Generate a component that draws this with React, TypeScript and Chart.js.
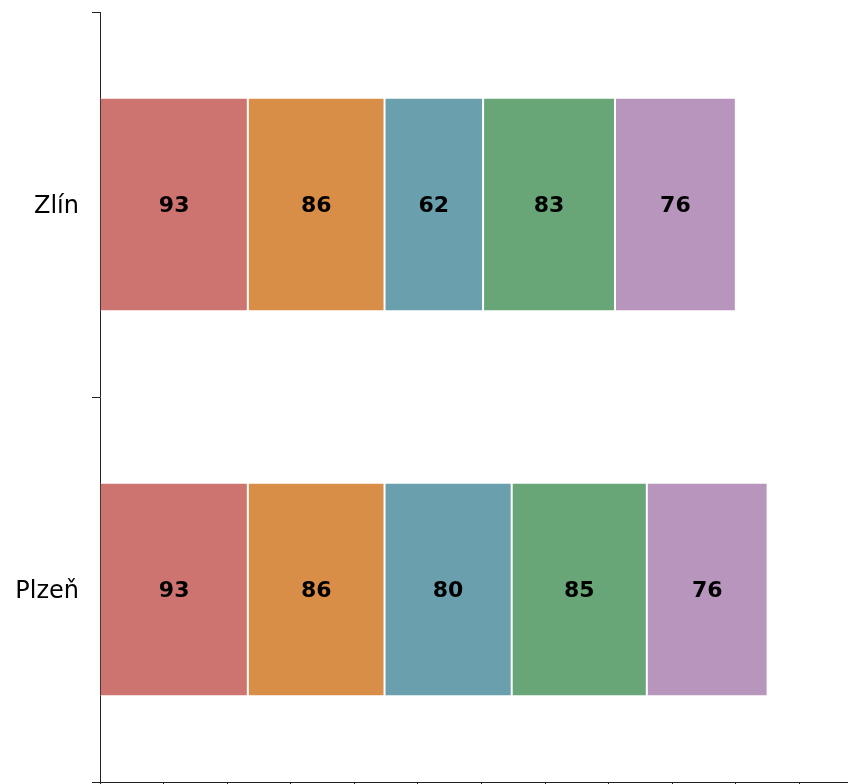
import React, { useEffect, useRef } from "react";
import { Chart, registerables } from "chart.js";

Chart.register(...registerables);

const categories = ["Zlín", "Plzeň"];
const seriesNames = ["Segment 1", "Segment 2", "Segment 3", "Segment 4", "Segment 5"];
const segment1 = [93, 93];
const segment2 = [86, 86];
const segment3 = [62, 80];
const segment4 = [83, 85];
const segment5 = [76, 76];
const seriesValues = [segment1, segment2, segment3, segment4, segment5];
const seriesColors = ["#CD7470", "#D98E48", "#6A9FAD", "#68A677", "#B795BD"];
const xMin = 0;
const xMax = 480;
const xStep = 40;

const valueLabels = {
  id: "valueLabels",
  afterDatasetsDraw(chart: any) {
    const ctx = chart.ctx;
    ctx.save();
    ctx.font = "bold 22px 'DejaVu Sans'";
    ctx.fillStyle = "#000";
    ctx.textAlign = "center";
    ctx.textBaseline = "middle";
    chart.data.datasets.forEach((ds: any, i: number) => {
      const meta = chart.getDatasetMeta(i);
      meta.data.forEach((el: any, j: number) => {
        const v = ds.data[j];
        const cx = (el.x + el.base) / 2;
        ctx.fillText(String(v), cx, el.y + 2);
      });
    });
    ctx.restore();
  },
};

export default function App() {
  const ref = useRef<HTMLCanvasElement>(null);
  useEffect(() => {
    if (!ref.current) return;
    const chart = new Chart(ref.current, {
      type: "bar",
      data: {
        labels: categories,
        datasets: seriesValues.map((vals, i) => ({
          label: seriesNames[i],
          data: vals,
          backgroundColor: seriesColors[i],
          borderColor: "#ffffff",
          borderWidth: 1,
          borderSkipped: i === 0 ? "start" : false,
          barPercentage: 0.555,
          categoryPercentage: 1,
        })),
      },
      options: {
        indexAxis: "y",
        responsive: false,
        animation: false,
        layout: { padding: { top: 12, left: 0, right: 17, bottom: 0 } },
        plugins: {
          legend: { display: false },
          tooltip: { enabled: false },
        },
        scales: {
          x: {
            type: "linear",
            stacked: true,
            min: xMin,
            max: xMax,
            ticks: { display: false, stepSize: xStep },
            grid: {
              drawOnChartArea: false,
              drawTicks: true,
              tickLength: 8,
              tickColor: "#222",
            },
            border: { display: true, color: "#222", width: 1 },
            afterFit: (s: any) => {
              s.height = 20;
              s.paddingLeft = 0;
              s.paddingRight = 0;
            },
          },
          y: {
            type: "category",
            stacked: true,
            offset: true,
            ticks: {
              color: "#000",
              padding: 13,
              labelOffset: 2,
              font: { family: "'DejaVu Sans'", size: 24 },
            },
            grid: {
              offset: true,
              drawOnChartArea: false,
              drawTicks: true,
              tickLength: 8,
              tickColor: "#222",
            },
            border: { display: true, color: "#222", width: 1 },
            afterFit: (s: any) => {
              s.width = 100;
              s.paddingTop = 0;
              s.paddingBottom = 0;
            },
          },
        },
      } as any,
      plugins: [valueLabels],
    });
    return () => chart.destroy();
  }, []);
  return (
    <div
      style={{
        position: "absolute",
        left: 0,
        top: 0,
        width: 848,
        height: 784,
        overflow: "hidden",
        background: "#fff",
      }}
    >
      <canvas ref={ref} width={880} height={802} style={{ display: "block" }} />
    </div>
  );
}
